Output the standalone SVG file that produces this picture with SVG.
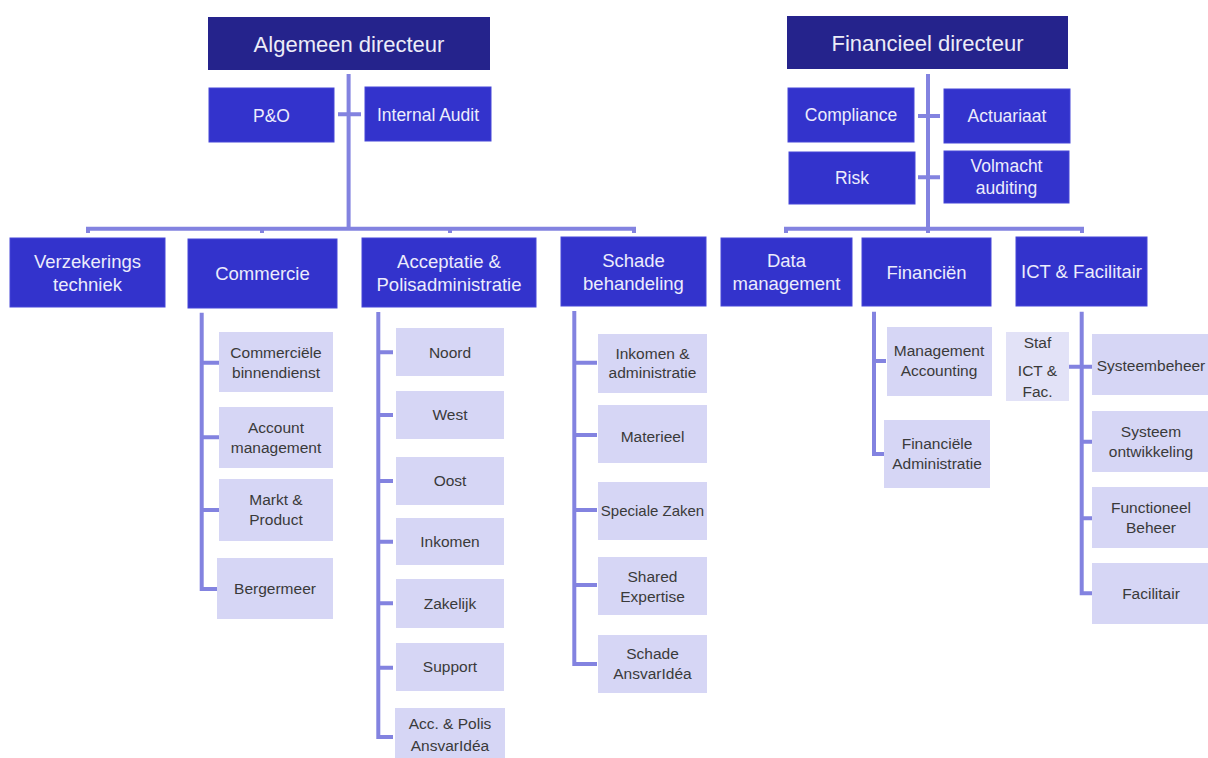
<svg xmlns="http://www.w3.org/2000/svg" width="1208" height="758" viewBox="0 0 1208 758">
<style>
.top{fill:#25238c}
.mid{fill:#3333cc;stroke:#4646d8;stroke-width:1}
.sub{fill:#d6d6f5}
.ln{stroke:#8383e0;stroke-width:4;fill:none;stroke-linejoin:miter}
text{font-family:"Liberation Sans",Arial,sans-serif;text-anchor:middle}
.t1{font-size:22px;fill:#ececf8}
.t2{font-size:18.5px;fill:#ececfc}
.t2s{font-size:17.5px;fill:#ececfc}
.t3{font-size:15.5px;fill:#3a3a3a}
</style>
<rect width="1208" height="758" fill="#ffffff"/>
<g id="connectors">
<path class="ln" d="M348.6 74V229M338 114.3H361M88 233V228.7H634V233M262 228.7V233M450 228.7V233"/>
<path class="ln" d="M928 74V233M918 116H940M918 177.3H940M786 233V228.7H1082V233"/>
<path class="ln" d="M201.7 312.7V589H217M201.7 362.7H219M201.7 437.3H219M201.7 510H219"/>
<path class="ln" d="M378.3 312V737H393M378.3 352.3H393M378.3 415H393M378.3 481H393M378.3 541.7H393M378.3 603.3H393M378.3 667.7H393"/>
<path class="ln" d="M574.3 311V664H597M574.3 362.7H597M574.3 435H597M574.3 510H597M574.3 585H597"/>
<path class="ln" d="M874 311.7V454H884M874 361H886"/>
<path class="ln" d="M1081.7 311.7V593.3H1092M1069 366.7H1092M1081.7 441.7H1092M1081.7 518.3H1092"/>
</g>
<g id="algemeen-directeur"><rect class="top" x="208" y="17" width="282" height="53"/><text class="t1" x="349" y="51.5">Algemeen directeur</text></g>
<g id="p-en-o"><rect class="mid" x="209" y="88" width="125" height="54"/><text class="t2s" x="271.5" y="121.5">P&amp;O</text></g>
<g id="internal-audit"><rect class="mid" x="365" y="87" width="126" height="54"/><text class="t2s" x="428" y="120.5">Internal Audit</text></g>
<g id="financieel-directeur"><rect class="top" x="787" y="16" width="281" height="53"/><text class="t1" x="927.5" y="50.5">Financieel directeur</text></g>
<g id="compliance"><rect class="mid" x="788" y="88" width="126" height="54"/><text class="t2s" x="851" y="121">Compliance</text></g>
<g id="actuariaat"><rect class="mid" x="944" y="89" width="126" height="54"/><text class="t2s" x="1007" y="122">Actuariaat</text></g>
<g id="risk"><rect class="mid" x="789" y="152" width="126" height="52"/><text class="t2s" x="852" y="184">Risk</text></g>
<g id="volmacht-auditing"><rect class="mid" x="944" y="151" width="125" height="52"/><text class="t2s" x="1006.5" y="171.5">Volmacht</text><text class="t2s" x="1006.5" y="193.5">auditing</text></g>
<g id="verzekeringstechniek"><rect class="mid" x="10" y="238" width="155" height="69"/><text class="t2" x="87.5" y="267.5">Verzekerings</text><text class="t2" x="87.5" y="290.5">techniek</text></g>
<g id="commercie"><rect class="mid" x="188" y="239" width="149" height="69"/><text class="t2" x="262.5" y="280">Commercie</text></g>
<g id="acceptatie"><rect class="mid" x="362" y="238" width="174" height="69"/><text class="t2" x="449" y="267.5">Acceptatie &amp;</text><text class="t2" x="449" y="290.5">Polisadministratie</text></g>
<g id="schade-behandeling"><rect class="mid" x="561" y="237" width="145" height="69"/><text class="t2" x="633.5" y="266.5">Schade</text><text class="t2" x="633.5" y="289.5">behandeling</text></g>
<g id="data-management"><rect class="mid" x="721" y="238" width="131" height="68"/><text class="t2" x="786.5" y="266.5">Data</text><text class="t2" x="786.5" y="290">management</text></g>
<g id="financien"><rect class="mid" x="862" y="238" width="129" height="68"/><text class="t2" x="926.5" y="278.5">Financiën</text></g>
<g id="ict-facilitair"><rect class="mid" x="1016" y="237" width="131" height="69"/><text class="t2" x="1081.5" y="278">ICT &amp; Facilitair</text></g>
<g id="commerciele-binnendienst"><rect class="sub" x="219" y="332" width="114" height="60"/><text class="t3" x="276" y="358">Commerciële</text><text class="t3" x="276" y="377.5">binnendienst</text></g>
<g id="account-management"><rect class="sub" x="219" y="407" width="114" height="61"/><text class="t3" x="276" y="433">Account</text><text class="t3" x="276" y="453">management</text></g>
<g id="markt-product"><rect class="sub" x="219" y="479" width="114" height="62"/><text class="t3" x="276" y="505">Markt &amp;</text><text class="t3" x="276" y="525">Product</text></g>
<g id="bergermeer"><rect class="sub" x="217" y="558" width="116" height="61"/><text class="t3" x="275" y="594">Bergermeer</text></g>
<g id="noord"><rect class="sub" x="396" y="328" width="108" height="48"/><text class="t3" x="450" y="358">Noord</text></g>
<g id="west"><rect class="sub" x="396" y="391" width="108" height="48"/><text class="t3" x="450" y="420">West</text></g>
<g id="oost"><rect class="sub" x="396" y="457" width="108" height="48"/><text class="t3" x="450" y="486">Oost</text></g>
<g id="inkomen"><rect class="sub" x="396" y="518" width="108" height="47"/><text class="t3" x="450" y="547">Inkomen</text></g>
<g id="zakelijk"><rect class="sub" x="396" y="579" width="108" height="49"/><text class="t3" x="450" y="609">Zakelijk</text></g>
<g id="support"><rect class="sub" x="396" y="643" width="108" height="48"/><text class="t3" x="450" y="672">Support</text></g>
<g id="acc-polis"><rect class="sub" x="395" y="708" width="110" height="52"/><text class="t3" x="450" y="729">Acc. &amp; Polis</text><text class="t3" x="450" y="750.5">AnsvarIdéa</text></g>
<g id="inkomen-administratie"><rect class="sub" x="598" y="334" width="109" height="59"/><text class="t3" x="652.5" y="359">Inkomen &amp;</text><text class="t3" x="652.5" y="378">administratie</text></g>
<g id="materieel"><rect class="sub" x="598" y="405" width="109" height="58"/><text class="t3" x="652.5" y="441.5">Materieel</text></g>
<g id="speciale-zaken"><rect class="sub" x="598" y="482" width="109" height="58"/><text class="t3" x="652.5" y="515.5" style="font-size:15px">Speciale Zaken</text></g>
<g id="shared-expertise"><rect class="sub" x="598" y="557" width="109" height="58"/><text class="t3" x="652.5" y="581.5">Shared</text><text class="t3" x="652.5" y="601.5">Expertise</text></g>
<g id="schade-ansvaridea"><rect class="sub" x="598" y="635" width="109" height="58"/><text class="t3" x="652.5" y="659">Schade</text><text class="t3" x="652.5" y="679">AnsvarIdéa</text></g>
<g id="management-accounting"><rect class="sub" x="887" y="327" width="105" height="69"/><text class="t3" x="939" y="356">Management</text><text class="t3" x="939" y="376">Accounting</text></g>
<g id="financiele-administratie"><rect class="sub" x="884" y="420" width="106" height="68"/><text class="t3" x="937" y="449">Financiële</text><text class="t3" x="937" y="469">Administratie</text></g>
<g id="staf-ict"><rect class="sub" x="1006" y="332" width="63" height="69" style="fill:#e2e2f7"/><text class="t3" x="1037.5" y="348">Staf</text><text class="t3" x="1037.5" y="376">ICT &amp;</text><text class="t3" x="1037.5" y="397">Fac.</text></g>
<g id="systeembeheer"><rect class="sub" x="1092" y="334" width="118" height="61"/><text class="t3" x="1151" y="370.5">Systeembeheer</text></g>
<g id="systeem-ontwikkeling"><rect class="sub" x="1092" y="411" width="118" height="61"/><text class="t3" x="1151" y="436.5">Systeem</text><text class="t3" x="1151" y="457">ontwikkeling</text></g>
<g id="functioneel-beheer"><rect class="sub" x="1092" y="487" width="118" height="61"/><text class="t3" x="1151" y="513">Functioneel</text><text class="t3" x="1151" y="533">Beheer</text></g>
<g id="facilitair"><rect class="sub" x="1092" y="563" width="118" height="61"/><text class="t3" x="1151" y="599">Facilitair</text></g>
</svg>
